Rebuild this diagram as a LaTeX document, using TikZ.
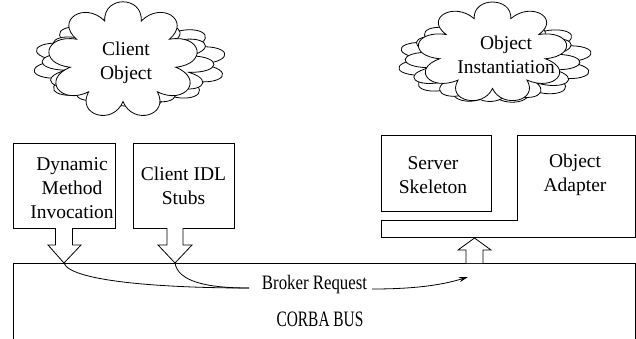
\documentclass[tikz,border=0pt]{standalone}
\usepackage{fontspec}
\setmainfont{Liberation Serif}
\usetikzlibrary{arrows.meta}
% #1 cx, #2 cy, #3 a, #4 b, #5 puffs, #6 bulge, #7 phase
\newcommand\puffcloud[7]{%
 \draw[fill=white] ({#1+#3*cos(#7)},{#2+#4*sin(#7)})
  \foreach \k [evaluate=\k as \ta using #7+(\k-1)*360/#5, evaluate=\k as \tb using #7+\k*360/#5] in {1,...,#5} {
   .. controls ({#1+#6*#3*cos(\ta+60/#5)},{#2+#6*#4*sin(\ta+60/#5)}) and ({#1+#6*#3*cos(\tb-60/#5)},{#2+#6*#4*sin(\tb-60/#5)}) .. ({#1+#3*cos(\tb)},{#2+#4*sin(\tb)})
  } -- cycle;}
\begin{document}
\begin{tikzpicture}[x=1pt,y=-1pt,line width=0.8pt,
  lbl/.style={font=\fontsize{19.5}{24}\selectfont, align=center, inner sep=0},
  boxnode/.style={draw, rectangle, inner sep=0},
  hollow/.style={draw, fill=white, line join=miter}
]
\useasboundingbox (0,0) rectangle (636,338);

% clouds
\puffcloud{129.5}{62.5}{72}{33.7}{12}{1.5}{3}
\puffcloud{128}{63}{63.7}{31.9}{12}{1.5}{17}
\puffcloud{123}{60}{53.5}{41.5}{9}{1.6}{10}
\node[lbl] (cot) at (126,63) {Client\\Object};

\puffcloud{495}{60.5}{72.6}{31.5}{12}{1.5}{3}
\puffcloud{492.5}{61}{64.8}{30}{12}{1.5}{17}
\puffcloud{492.5}{52.5}{53.5}{36}{9}{1.6}{10}
\node[lbl] (oit) at (506,55) {Object\\Instantiation};

% client side boxes
\node[boxnode, minimum width=102, minimum height=85] (dmi) at (64,185.5) {};
\node[lbl] (dmit) at (72,188) {Dynamic\\Method\\Invocation};
\node[boxnode, minimum width=101, minimum height=85, lbl, draw] (cis) at (183.5,185.5) {Client IDL\\Stubs};

% server side
\node[boxnode, minimum width=110, minimum height=76] (ssk) at (436,173) {};
\node[lbl] (sskt) at (433,175) {Server\\Skeleton};
\draw (381,220) -- (517,220) -- (517,135) -- (635,135) -- (635,237) -- (381,237) -- cycle;
\node[lbl] (oat) at (575,175) {Object\\Adapter};

% bus
\draw (13,345) -- (13,263) coordinate (busnw) -- (635,263) coordinate (busne) -- (635,345);
\node[lbl, font=\fontsize{22}{24}\selectfont] (bust) at (320,319) {\scalebox{0.7}[1]{CORBA BUS}};

% hollow arrows
\coordinate (dtip) at (64,263);
\coordinate (ctip) at (175,263);
\coordinate (utip) at (474.5,238);
\draw[hollow] (55.5,228) -- (55.5,245) -- (48,245) -- (dtip) -- (81,245) -- (72.5,245) -- (72.5,228);
\draw[hollow] (167,228) -- (167,245) -- (158,245) -- (ctip) -- (192,245) -- (183,245) -- (183,228);
\draw[hollow] (466,263) -- (466,250) -- (458,250) -- (utip) -- (491,250) -- (483,250) -- (483,263);

% broker request
\node[lbl, font=\fontsize{20.5}{24}\selectfont] (br) at (314.5,285) {\scalebox{0.82}[1]{Broker Request}};
\coordinate (brin) at (249,288);
\coordinate (brend) at (468,277);
\draw (dtip) .. controls (70,281) and (160,288) .. (brin);
\draw (ctip) .. controls (178,281) and (205,288) .. (brin);
\draw[-{Stealth[length=9pt,width=5pt]}] (372,289) .. controls (420,289) and (445,284) .. (brend);
\end{tikzpicture}
\end{document}
